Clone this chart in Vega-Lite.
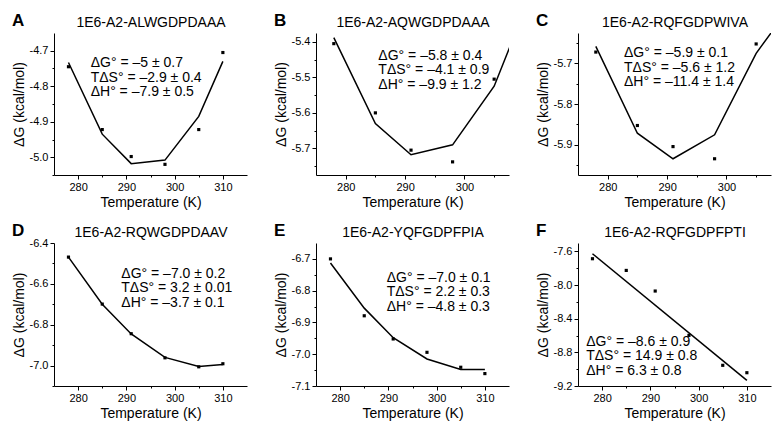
{
  "$schema": "https://vega.github.io/schema/vega-lite/v6.json",
  "padding": {"left": 12, "top": 12, "right": 5, "bottom": 5},
  "datasets": {
    "pts": [
      {"panel": "A", "T": 278, "dG": -4.745}, {"panel": "A", "T": 285, "dG": -4.922}, {"panel": "A", "T": 291, "dG": -4.998},
      {"panel": "A", "T": 298, "dG": -5.02}, {"panel": "A", "T": 305, "dG": -4.922}, {"panel": "A", "T": 310, "dG": -4.705},
      {"panel": "B", "T": 278, "dG": -5.405}, {"panel": "B", "T": 285, "dG": -5.6}, {"panel": "B", "T": 291, "dG": -5.705},
      {"panel": "B", "T": 298, "dG": -5.738}, {"panel": "B", "T": 305, "dG": -5.505},
      {"panel": "C", "T": 278, "dG": -5.672}, {"panel": "C", "T": 285, "dG": -5.853}, {"panel": "C", "T": 291, "dG": -5.905},
      {"panel": "C", "T": 298, "dG": -5.935}, {"panel": "C", "T": 305, "dG": -5.652},
      {"panel": "D", "T": 278, "dG": -6.469}, {"panel": "D", "T": 285, "dG": -6.699}, {"panel": "D", "T": 291, "dG": -6.844},
      {"panel": "D", "T": 298, "dG": -6.962}, {"panel": "D", "T": 305, "dG": -7.006}, {"panel": "D", "T": 310, "dG": -6.991},
      {"panel": "E", "T": 278, "dG": -6.7}, {"panel": "E", "T": 285, "dG": -6.879}, {"panel": "E", "T": 291, "dG": -6.952},
      {"panel": "E", "T": 298, "dG": -6.994}, {"panel": "E", "T": 305, "dG": -7.041}, {"panel": "E", "T": 310, "dG": -7.061},
      {"panel": "F", "T": 278, "dG": -7.687}, {"panel": "F", "T": 285, "dG": -7.826}, {"panel": "F", "T": 291, "dG": -8.071},
      {"panel": "F", "T": 298, "dG": -8.598}, {"panel": "F", "T": 305, "dG": -8.954}, {"panel": "F", "T": 310, "dG": -9.042}
    ],
    "fit": [
      {"panel": "A", "T": 278, "fit": -4.733}, {"panel": "A", "T": 285, "fit": -4.935}, {"panel": "A", "T": 291, "fit": -5.018},
      {"panel": "A", "T": 298, "fit": -5.008}, {"panel": "A", "T": 305, "fit": -4.885}, {"panel": "A", "T": 310, "fit": -4.73},
      {"panel": "B", "T": 278, "fit": -5.388}, {"panel": "B", "T": 285, "fit": -5.63}, {"panel": "B", "T": 291, "fit": -5.718},
      {"panel": "B", "T": 298, "fit": -5.69}, {"panel": "B", "T": 305, "fit": -5.525}, {"panel": "B", "T": 310, "fit": -5.315},
      {"panel": "C", "T": 278, "fit": -5.658}, {"panel": "C", "T": 285, "fit": -5.872}, {"panel": "C", "T": 291, "fit": -5.935},
      {"panel": "C", "T": 298, "fit": -5.876}, {"panel": "C", "T": 305, "fit": -5.675}, {"panel": "C", "T": 310, "fit": -5.575},
      {"panel": "D", "T": 278, "fit": -6.469}, {"panel": "D", "T": 285, "fit": -6.7}, {"panel": "D", "T": 291, "fit": -6.845},
      {"panel": "D", "T": 298, "fit": -6.96}, {"panel": "D", "T": 305, "fit": -7.004}, {"panel": "D", "T": 310, "fit": -6.995},
      {"panel": "E", "T": 278, "fit": -6.713}, {"panel": "E", "T": 285, "fit": -6.855}, {"panel": "E", "T": 291, "fit": -6.948},
      {"panel": "E", "T": 298, "fit": -7.015}, {"panel": "E", "T": 305, "fit": -7.048}, {"panel": "E", "T": 310, "fit": -7.048},
      {"panel": "F", "T": 278, "fit": -7.628}, {"panel": "F", "T": 310, "fit": -9.133}
    ],
    "stats": [
      {"panel": "A", "text": "ΔG° = –5 ± 0.7\nTΔS° = –2.9 ± 0.4\nΔH° = –7.9 ± 0.5"},
      {"panel": "B", "text": "ΔG° = –5.8 ± 0.4\nTΔS° = –4.1 ± 0.9\nΔH° = –9.9 ± 1.2"},
      {"panel": "C", "text": "ΔG° = –5.9 ± 0.1\nTΔS° = –5.6 ± 1.2\nΔH° = –11.4 ± 1.4"},
      {"panel": "D", "text": "ΔG° = –7.0 ± 0.2\nTΔS° = 3.2 ± 0.01\nΔH° = –3.7 ± 0.1"},
      {"panel": "E", "text": "ΔG° = –7.0 ± 0.1\nTΔS° = 2.2 ± 0.3\nΔH° = –4.8 ± 0.3"},
      {"panel": "F", "text": "ΔG° = –8.6 ± 0.9\nTΔS° = 14.9 ± 0.8\nΔH° = 6.3 ± 0.8"}
    ]
  },
  "columns": 3,
  "spacing": {"column": 27, "row": 13},
  "concat": [
    {
      "width": 193, "height": 142,
      "title": {"text": "A", "anchor": "start", "frame": "bounds", "dy": 19, "fontSize": 17, "fontWeight": "bold"},
      "resolve": {"axis": {"x": "independent", "y": "independent"}},
      "layer": [
        {"data": {"name": "pts"}, "transform": [{"filter": "datum.panel == 'A'"}],
         "mark": {"type": "square", "size": 10, "color": "black", "opacity": 1},
         "encoding": {
           "x": {"field": "T", "type": "quantitative", "scale": {"domain": [275, 315], "nice": false, "zero": false}, "axis": {"orient": "bottom", "values": [280, 290, 300, 310], "title": "Temperature (K)", "labelFontSize": 11, "titleFontSize": 14}},
           "y": {"field": "dG", "type": "quantitative", "scale": {"domain": [-5.05, -4.65], "nice": false, "zero": false}, "axis": {"orient": "left", "values": [-5.0, -4.9, -4.8, -4.7], "format": ".1f", "title": "ΔG (kcal/mol)", "labelFontSize": 11, "titleFontSize": 14}}}},
        {"data": {"name": "fit"}, "transform": [{"filter": "datum.panel == 'A'"}],
         "mark": {"type": "line", "color": "black", "strokeWidth": 1.5, "clip": true},
         "encoding": {
           "x": {"field": "T", "type": "quantitative", "scale": {"domain": [275, 315], "nice": false, "zero": false}, "axis": {"orient": "top", "title": "1E6-A2-ALWGDPDAAA", "labels": false, "ticks": false, "domain": false, "titlePadding": 4, "titleFontSize": 14}},
           "y": {"field": "fit", "type": "quantitative", "scale": {"domain": [-5.05, -4.65], "nice": false, "zero": false}, "axis": {"orient": "left", "values": [-5.05, -4.95, -4.85, -4.75], "labels": false, "domain": false, "tickSize": 2, "title": null}}}},
        {"data": {"name": "stats"}, "transform": [{"filter": "datum.panel == 'A'"}],
         "mark": {"type": "text", "align": "left", "baseline": "top", "lineBreak": "\n", "fontSize": 14, "lineHeight": 14.5},
         "encoding": {
           "x": {"datum": 282.6, "type": "quantitative", "scale": {"domain": [275, 315], "nice": false, "zero": false}, "axis": {"orient": "bottom", "values": [285, 295, 305], "labels": false, "domain": false, "tickSize": 2, "title": null}},
           "y": {"datum": -4.715, "type": "quantitative", "scale": {"domain": [-5.05, -4.65], "nice": false, "zero": false}, "axis": null},
           "text": {"field": "text"}}}
      ]
    },
    {
      "width": 193, "height": 142,
      "title": {"text": "B", "anchor": "start", "frame": "bounds", "dy": 19, "fontSize": 17, "fontWeight": "bold"},
      "resolve": {"axis": {"x": "independent", "y": "independent"}},
      "layer": [
        {"data": {"name": "pts"}, "transform": [{"filter": "datum.panel == 'B'"}],
         "mark": {"type": "square", "size": 10, "color": "black", "opacity": 1},
         "encoding": {
           "x": {"field": "T", "type": "quantitative", "scale": {"domain": [275, 307.5], "nice": false, "zero": false}, "axis": {"orient": "bottom", "values": [280, 290, 300], "title": "Temperature (K)", "labelFontSize": 11, "titleFontSize": 14}},
           "y": {"field": "dG", "type": "quantitative", "scale": {"domain": [-5.775, -5.375], "nice": false, "zero": false}, "axis": {"orient": "left", "values": [-5.7, -5.6, -5.5, -5.4], "format": ".1f", "title": "ΔG (kcal/mol)", "labelFontSize": 11, "titleFontSize": 14}}}},
        {"data": {"name": "fit"}, "transform": [{"filter": "datum.panel == 'B'"}],
         "mark": {"type": "line", "color": "black", "strokeWidth": 1.5, "clip": true},
         "encoding": {
           "x": {"field": "T", "type": "quantitative", "scale": {"domain": [275, 307.5], "nice": false, "zero": false}, "axis": {"orient": "top", "title": "1E6-A2-AQWGDPDAAA", "labels": false, "ticks": false, "domain": false, "titlePadding": 4, "titleFontSize": 14}},
           "y": {"field": "fit", "type": "quantitative", "scale": {"domain": [-5.775, -5.375], "nice": false, "zero": false}, "axis": {"orient": "left", "values": [-5.75, -5.65, -5.55, -5.45], "labels": false, "domain": false, "tickSize": 2, "title": null}}}},
        {"data": {"name": "stats"}, "transform": [{"filter": "datum.panel == 'B'"}],
         "mark": {"type": "text", "align": "left", "baseline": "top", "lineBreak": "\n", "fontSize": 14, "lineHeight": 14.5},
         "encoding": {
           "x": {"datum": 285.5, "type": "quantitative", "scale": {"domain": [275, 307.5], "nice": false, "zero": false}, "axis": {"orient": "bottom", "values": [285, 295, 305], "labels": false, "domain": false, "tickSize": 2, "title": null}},
           "y": {"datum": -5.42, "type": "quantitative", "scale": {"domain": [-5.775, -5.375], "nice": false, "zero": false}, "axis": null},
           "text": {"field": "text"}}}
      ]
    },
    {
      "width": 193, "height": 142,
      "title": {"text": "C", "anchor": "start", "frame": "bounds", "dy": 19, "fontSize": 17, "fontWeight": "bold"},
      "resolve": {"axis": {"x": "independent", "y": "independent"}},
      "layer": [
        {"data": {"name": "pts"}, "transform": [{"filter": "datum.panel == 'C'"}],
         "mark": {"type": "square", "size": 10, "color": "black", "opacity": 1},
         "encoding": {
           "x": {"field": "T", "type": "quantitative", "scale": {"domain": [275, 307.5], "nice": false, "zero": false}, "axis": {"orient": "bottom", "values": [280, 290, 300], "title": "Temperature (K)", "labelFontSize": 11, "titleFontSize": 14}},
           "y": {"field": "dG", "type": "quantitative", "scale": {"domain": [-5.975, -5.625], "nice": false, "zero": false}, "axis": {"orient": "left", "values": [-5.9, -5.8, -5.7], "format": ".1f", "title": "ΔG (kcal/mol)", "labelFontSize": 11, "titleFontSize": 14}}}},
        {"data": {"name": "fit"}, "transform": [{"filter": "datum.panel == 'C'"}],
         "mark": {"type": "line", "color": "black", "strokeWidth": 1.5, "clip": true},
         "encoding": {
           "x": {"field": "T", "type": "quantitative", "scale": {"domain": [275, 307.5], "nice": false, "zero": false}, "axis": {"orient": "top", "title": "1E6-A2-RQFGDPWIVA", "labels": false, "ticks": false, "domain": false, "titlePadding": 4, "titleFontSize": 14}},
           "y": {"field": "fit", "type": "quantitative", "scale": {"domain": [-5.975, -5.625], "nice": false, "zero": false}, "axis": {"orient": "left", "values": [-5.95, -5.85, -5.75, -5.65], "labels": false, "domain": false, "tickSize": 2, "title": null}}}},
        {"data": {"name": "stats"}, "transform": [{"filter": "datum.panel == 'C'"}],
         "mark": {"type": "text", "align": "left", "baseline": "top", "lineBreak": "\n", "fontSize": 14, "lineHeight": 14.5},
         "encoding": {
           "x": {"datum": 282.75, "type": "quantitative", "scale": {"domain": [275, 307.5], "nice": false, "zero": false}, "axis": {"orient": "bottom", "values": [285, 295, 305], "labels": false, "domain": false, "tickSize": 2, "title": null}},
           "y": {"datum": -5.658, "type": "quantitative", "scale": {"domain": [-5.975, -5.625], "nice": false, "zero": false}, "axis": null},
           "text": {"field": "text"}}}
      ]
    },
    {
      "width": 193, "height": 143,
      "title": {"text": "D", "anchor": "start", "frame": "bounds", "dy": 19, "fontSize": 17, "fontWeight": "bold"},
      "resolve": {"axis": {"x": "independent", "y": "independent"}},
      "layer": [
        {"data": {"name": "pts"}, "transform": [{"filter": "datum.panel == 'D'"}],
         "mark": {"type": "square", "size": 10, "color": "black", "opacity": 1},
         "encoding": {
           "x": {"field": "T", "type": "quantitative", "scale": {"domain": [275, 315], "nice": false, "zero": false}, "axis": {"orient": "bottom", "values": [280, 290, 300, 310], "title": "Temperature (K)", "labelFontSize": 11, "titleFontSize": 14}},
           "y": {"field": "dG", "type": "quantitative", "scale": {"domain": [-7.1, -6.4], "nice": false, "zero": false}, "axis": {"orient": "left", "values": [-7.0, -6.8, -6.6, -6.4], "format": ".1f", "title": "ΔG (kcal/mol)", "labelFontSize": 11, "titleFontSize": 14}}}},
        {"data": {"name": "fit"}, "transform": [{"filter": "datum.panel == 'D'"}],
         "mark": {"type": "line", "color": "black", "strokeWidth": 1.5, "clip": true},
         "encoding": {
           "x": {"field": "T", "type": "quantitative", "scale": {"domain": [275, 315], "nice": false, "zero": false}, "axis": {"orient": "top", "title": "1E6-A2-RQWGDPDAAV", "labels": false, "ticks": false, "domain": false, "titlePadding": 4, "titleFontSize": 14}},
           "y": {"field": "fit", "type": "quantitative", "scale": {"domain": [-7.1, -6.4], "nice": false, "zero": false}, "axis": {"orient": "left", "values": [-7.1, -6.9, -6.7, -6.5], "labels": false, "domain": false, "tickSize": 2, "title": null}}}},
        {"data": {"name": "stats"}, "transform": [{"filter": "datum.panel == 'D'"}],
         "mark": {"type": "text", "align": "left", "baseline": "top", "lineBreak": "\n", "fontSize": 14, "lineHeight": 14.5},
         "encoding": {
           "x": {"datum": 288.95, "type": "quantitative", "scale": {"domain": [275, 315], "nice": false, "zero": false}, "axis": {"orient": "bottom", "values": [285, 295, 305], "labels": false, "domain": false, "tickSize": 2, "title": null}},
           "y": {"datum": -6.516, "type": "quantitative", "scale": {"domain": [-7.1, -6.4], "nice": false, "zero": false}, "axis": null},
           "text": {"field": "text"}}}
      ]
    },
    {
      "width": 193, "height": 143,
      "title": {"text": "E", "anchor": "start", "frame": "bounds", "dy": 19, "fontSize": 17, "fontWeight": "bold"},
      "resolve": {"axis": {"x": "independent", "y": "independent"}},
      "layer": [
        {"data": {"name": "pts"}, "transform": [{"filter": "datum.panel == 'E'"}],
         "mark": {"type": "square", "size": 10, "color": "black", "opacity": 1},
         "encoding": {
           "x": {"field": "T", "type": "quantitative", "scale": {"domain": [275, 315], "nice": false, "zero": false}, "axis": {"orient": "bottom", "values": [280, 290, 300, 310], "title": "Temperature (K)", "labelFontSize": 11, "titleFontSize": 14}},
           "y": {"field": "dG", "type": "quantitative", "scale": {"domain": [-7.1, -6.65], "nice": false, "zero": false}, "axis": {"orient": "left", "values": [-7.1, -7.0, -6.9, -6.8, -6.7], "format": ".1f", "title": "ΔG (kcal/mol)", "labelFontSize": 11, "titleFontSize": 14}}}},
        {"data": {"name": "fit"}, "transform": [{"filter": "datum.panel == 'E'"}],
         "mark": {"type": "line", "color": "black", "strokeWidth": 1.5, "clip": true},
         "encoding": {
           "x": {"field": "T", "type": "quantitative", "scale": {"domain": [275, 315], "nice": false, "zero": false}, "axis": {"orient": "top", "title": "1E6-A2-YQFGDPFPIA", "labels": false, "ticks": false, "domain": false, "titlePadding": 4, "titleFontSize": 14}},
           "y": {"field": "fit", "type": "quantitative", "scale": {"domain": [-7.1, -6.65], "nice": false, "zero": false}, "axis": {"orient": "left", "values": [-7.05, -6.95, -6.85, -6.75], "labels": false, "domain": false, "tickSize": 2, "title": null}}}},
        {"data": {"name": "stats"}, "transform": [{"filter": "datum.panel == 'E'"}],
         "mark": {"type": "text", "align": "left", "baseline": "top", "lineBreak": "\n", "fontSize": 14, "lineHeight": 14.5},
         "encoding": {
           "x": {"datum": 289.65, "type": "quantitative", "scale": {"domain": [275, 315], "nice": false, "zero": false}, "axis": {"orient": "bottom", "values": [285, 295, 305], "labels": false, "domain": false, "tickSize": 2, "title": null}},
           "y": {"datum": -6.737, "type": "quantitative", "scale": {"domain": [-7.1, -6.65], "nice": false, "zero": false}, "axis": null},
           "text": {"field": "text"}}}
      ]
    },
    {
      "width": 193, "height": 143,
      "title": {"text": "F", "anchor": "start", "frame": "bounds", "dy": 19, "fontSize": 17, "fontWeight": "bold"},
      "resolve": {"axis": {"x": "independent", "y": "independent"}},
      "layer": [
        {"data": {"name": "pts"}, "transform": [{"filter": "datum.panel == 'F'"}],
         "mark": {"type": "square", "size": 10, "color": "black", "opacity": 1},
         "encoding": {
           "x": {"field": "T", "type": "quantitative", "scale": {"domain": [275, 315], "nice": false, "zero": false}, "axis": {"orient": "bottom", "values": [280, 290, 300, 310], "title": "Temperature (K)", "labelFontSize": 11, "titleFontSize": 14}},
           "y": {"field": "dG", "type": "quantitative", "scale": {"domain": [-9.2, -7.5], "nice": false, "zero": false}, "axis": {"orient": "left", "values": [-9.2, -8.8, -8.4, -8.0, -7.6], "format": ".1f", "title": "ΔG (kcal/mol)", "labelFontSize": 11, "titleFontSize": 14}}}},
        {"data": {"name": "fit"}, "transform": [{"filter": "datum.panel == 'F'"}],
         "mark": {"type": "line", "color": "black", "strokeWidth": 1.5, "clip": true},
         "encoding": {
           "x": {"field": "T", "type": "quantitative", "scale": {"domain": [275, 315], "nice": false, "zero": false}, "axis": {"orient": "top", "title": "1E6-A2-RQFGDPFPTI", "labels": false, "ticks": false, "domain": false, "titlePadding": 4, "titleFontSize": 14}},
           "y": {"field": "fit", "type": "quantitative", "scale": {"domain": [-9.2, -7.5], "nice": false, "zero": false}, "axis": {"orient": "left", "values": [-9.0, -8.6, -8.2, -7.8], "labels": false, "domain": false, "tickSize": 2, "title": null}}}},
        {"data": {"name": "stats"}, "transform": [{"filter": "datum.panel == 'F'"}],
         "mark": {"type": "text", "align": "left", "baseline": "top", "lineBreak": "\n", "fontSize": 14, "lineHeight": 14.5},
         "encoding": {
           "x": {"datum": 276.7, "type": "quantitative", "scale": {"domain": [275, 315], "nice": false, "zero": false}, "axis": {"orient": "bottom", "values": [285, 295, 305], "labels": false, "domain": false, "tickSize": 2, "title": null}},
           "y": {"datum": -8.592, "type": "quantitative", "scale": {"domain": [-9.2, -7.5], "nice": false, "zero": false}, "axis": null},
           "text": {"field": "text"}}}
      ]
    }
  ],
  "config": {
    "font": "Liberation Sans",
    "view": {"stroke": null},
    "locale": {"number": {"decimal": ".", "thousands": ",", "grouping": [3], "currency": ["$", ""], "minus": "-"}},
    "title": {"font": "Liberation Sans", "fontSize": 17, "fontWeight": "bold", "color": "black", "offset": 0},
    "text": {"font": "Liberation Sans", "color": "black"},
    "axis": {
      "grid": false, "domainColor": "black", "tickColor": "black", "labelColor": "black", "titleColor": "black",
      "labelFont": "Liberation Sans", "titleFont": "Liberation Sans", "labelFontSize": 11, "titleFontSize": 14,
      "titleFontWeight": "normal", "tickSize": 4, "labelPadding": 2, "titlePadding": 3, "domainWidth": 1, "tickWidth": 1
    }
  }
}
